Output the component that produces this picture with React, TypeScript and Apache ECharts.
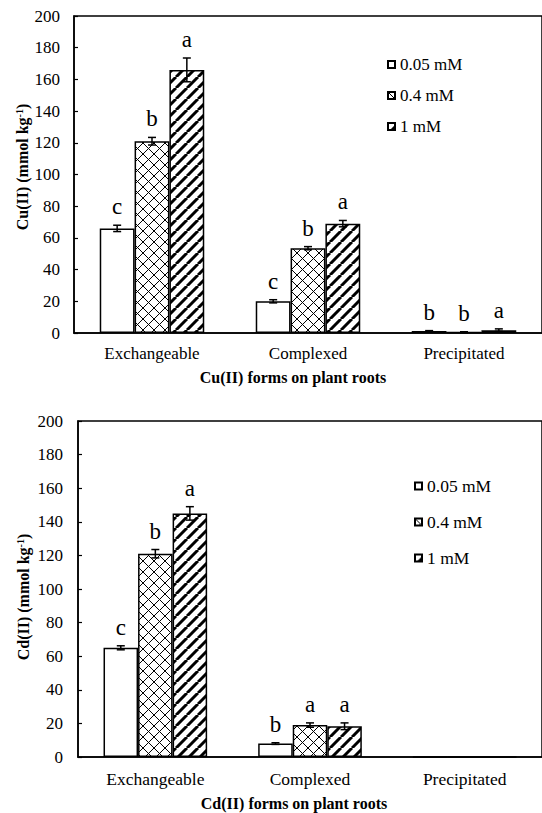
import React, { useEffect, useRef } from "react";
import * as echarts from "echarts";

const categories = ["Exchangeable", "Complexed", "Precipitated"];
const seriesNames = ["0.05 mM", "0.4 mM", "1 mM"];

// Cu(II) chart
const cuLow = [66, 20, 1.2];
const cuLowErr = [2, 1, 0.3];
const cuMid = [121, 53.5, 0.5];
const cuMidErr = [2.4, 1, 0.3];
const cuHigh = [166, 69, 1.8];
const cuHighErr = [7.5, 2, 0.8];
const cuLowLetters = ["c", "c", "b"];
const cuMidLetters = ["b", "b", "b"];
const cuHighLetters = ["a", "a", "a"];

// Cd(II) chart
const cdLow = [65, 8, 0];
const cdLowErr = [1.2, 0.5, 0];
const cdMid = [121, 19, 0];
const cdMidErr = [2.5, 1.3, 0];
const cdHigh = [145, 18.3, 0];
const cdHighErr = [4, 2, 0];
const cdLowLetters = ["c", "b", ""];
const cdMidLetters = ["b", "a", ""];
const cdHighLetters = ["a", "a", ""];

const FONT = "Liberation Serif";
const GAP = 0.33;

function makeTile(kind: string): string {
  const s = 11;
  const c = document.createElement("canvas");
  c.width = s;
  c.height = s;
  const ctx = c.getContext("2d")!;
  ctx.fillStyle = "#fff";
  ctx.fillRect(0, 0, s, s);
  ctx.strokeStyle = "#000";
  if (kind === "cross") {
    ctx.lineWidth = 1;
    ctx.beginPath();
    ctx.moveTo(0, 0);
    ctx.lineTo(s, s);
    ctx.moveTo(0, s);
    ctx.lineTo(s, 0);
    ctx.stroke();
  } else {
    ctx.lineWidth = 3;
    ctx.beginPath();
    for (const x0 of [-s, 0, s]) {
      ctx.moveTo(x0, s);
      ctx.lineTo(x0 + s, 0);
    }
    ctx.stroke();
  }
  return c.toDataURL();
}

export default function App() {
  const ref = useRef<HTMLDivElement>(null);
  useEffect(() => {
    if (!ref.current) return;
    const chart = echarts.init(ref.current, null, { renderer: "svg" });
    const crossImg = makeTile("cross");
    const stripeImg = makeTile("stripe");
    const fills: any[] = [
      "#ffffff",
      { image: crossImg, repeat: "repeat", imageWidth: 11, imageHeight: 11 },
      { image: stripeImg, repeat: "repeat", imageWidth: 11, imageHeight: 11 },
    ];

    const makeBar = (k: number, gi: number, vals: number[]) => ({
      type: "bar",
      name: seriesNames[k],
      xAxisIndex: gi,
      yAxisIndex: gi,
      data: vals,
      barGap: "0%",
      barCategoryGap: GAP * 100 + "%",
      itemStyle: { color: fills[k], borderColor: "#000", borderWidth: 1.5 },
      emphasis: { disabled: true },
    });

    const makeErr = (k: number, gi: number, vals: number[], errs: number[], letters: string[]) => ({
      type: "custom",
      xAxisIndex: gi,
      yAxisIndex: gi,
      silent: true,
      z: 10,
      data: vals.map((v, i) => [i, v, errs[i]]),
      encode: { x: 0, y: 1 },
      renderItem: (params: any, api: any) => {
        const ci = api.value(0);
        const v = api.value(1);
        const e = api.value(2);
        const letter = letters[params.dataIndex];
        const band = api.size([1, 0])[0];
        const bw = (band * (1 - GAP)) / 3;
        const c = api.coord([ci, v]);
        const x = c[0] + (k - 1) * bw;
        const yTop = api.coord([ci, v + e])[1];
        const yBot = api.coord([ci, Math.max(0, v - e)])[1];
        const st = { stroke: "#000", lineWidth: 1.5 };
        const children: any[] = [];
        if (e > 0) {
          children.push({ type: "line", shape: { x1: x, y1: yTop, x2: x, y2: yBot }, style: st });
          children.push({ type: "line", shape: { x1: x - 4, y1: yTop, x2: x + 4, y2: yTop }, style: st });
          children.push({ type: "line", shape: { x1: x - 4, y1: yBot, x2: x + 4, y2: yBot }, style: st });
        }
        if (letter) {
          children.push({
            type: "text",
            x: x,
            y: yTop - 7,
            style: {
              text: letter,
              fontSize: 23,
              fontFamily: FONT,
              fill: "#000",
              align: "center",
              verticalAlign: "bottom",
            },
          });
        }
        return { type: "group", children };
      },
    });

    const mkX = (gi: number, fs: number, margin: number) => ({
      type: "category",
      gridIndex: gi,
      data: categories,
      axisLine: { lineStyle: { color: "#000", width: 1.5 } },
      axisTick: { inside: true, length: 4, lineStyle: { color: "#000", width: 1.2 } },
      axisLabel: { color: "#000", fontSize: fs, fontFamily: FONT, margin },
      splitLine: { show: false },
    });
    const mkY = (gi: number, fs: number, margin: number) => ({
      type: "value",
      gridIndex: gi,
      min: 0,
      max: 200,
      interval: 20,
      axisLine: { show: true, lineStyle: { color: "#000", width: 1.5 } },
      axisTick: { show: true, inside: true, length: 4, lineStyle: { color: "#000", width: 1.2 } },
      axisLabel: { color: "#000", fontSize: fs, fontFamily: FONT, margin },
      splitLine: { show: false },
    });

    const legendBase = {
      orient: "vertical",
      itemWidth: 7,
      itemHeight: 7,
      icon: "rect",
      data: seriesNames,
      selectedMode: false,
    };

    const yTitle = (x: number, y: number, metal: string) => ({
      type: "text",
      x,
      y,
      rotation: Math.PI / 2,
      style: {
        text: `{a|${metal} (mmol kg}{s|-1}{a|)}`,
        align: "center",
        verticalAlign: "middle",
        fill: "#000",
        rich: {
          a: { fontSize: 16, fontWeight: "bold", fontFamily: FONT, fill: "#000" },
          s: { fontSize: 10, fontWeight: "bold", fontFamily: FONT, fill: "#000", verticalAlign: "top" },
        },
      },
    });
    const xTitle = (x: number, y: number, text: string) => ({
      type: "text",
      x,
      y,
      style: {
        text,
        align: "center",
        verticalAlign: "middle",
        fontSize: 16,
        fontWeight: "bold",
        fontFamily: FONT,
        fill: "#000",
      },
    });

    chart.setOption({
      animation: false,
      backgroundColor: "#fff",
      textStyle: { fontFamily: FONT },
      grid: [
        { left: 74, top: 16, width: 477, height: 317, show: true, borderColor: "#000", borderWidth: 1.5 },
        { left: 78, top: 421, width: 478, height: 336, show: true, borderColor: "#000", borderWidth: 1.5 },
      ],
      xAxis: [mkX(0, 17, 12), mkX(1, 17.5, 13)],
      yAxis: [mkY(0, 17, 14), mkY(1, 17, 15)],
      legend: [
        {
          ...legendBase,
          left: 382,
          top: 51,
          itemGap: 14,
          textStyle: { color: "#000", fontSize: 17, fontFamily: FONT },
        },
        {
          ...legendBase,
          left: 409,
          top: 472,
          itemGap: 18,
          textStyle: { color: "#000", fontSize: 17.5, fontFamily: FONT },
        },
      ],
      graphic: [
        yTitle(22, 167, "Cu(II)"),
        yTitle(23, 597, "Cd(II)"),
        xTitle(293, 377, "Cu(II) forms on plant roots"),
        xTitle(294, 803, "Cd(II) forms on plant roots"),
      ],
      series: [
        makeBar(0, 0, cuLow),
        makeBar(1, 0, cuMid),
        makeBar(2, 0, cuHigh),
        makeBar(0, 1, cdLow),
        makeBar(1, 1, cdMid),
        makeBar(2, 1, cdHigh),
        makeErr(0, 0, cuLow, cuLowErr, cuLowLetters),
        makeErr(1, 0, cuMid, cuMidErr, cuMidLetters),
        makeErr(2, 0, cuHigh, cuHighErr, cuHighLetters),
        makeErr(0, 1, cdLow, cdLowErr, cdLowLetters),
        makeErr(1, 1, cdMid, cdMidErr, cdMidLetters),
        makeErr(2, 1, cdHigh, cdHighErr, cdHighLetters),
      ],
    });
    return () => chart.dispose();
  }, []);
  return (
    <div
      ref={ref}
      style={{ position: "fixed", left: 0, top: 0, width: 542, height: 813, background: "#fff" }}
    />
  );
}
